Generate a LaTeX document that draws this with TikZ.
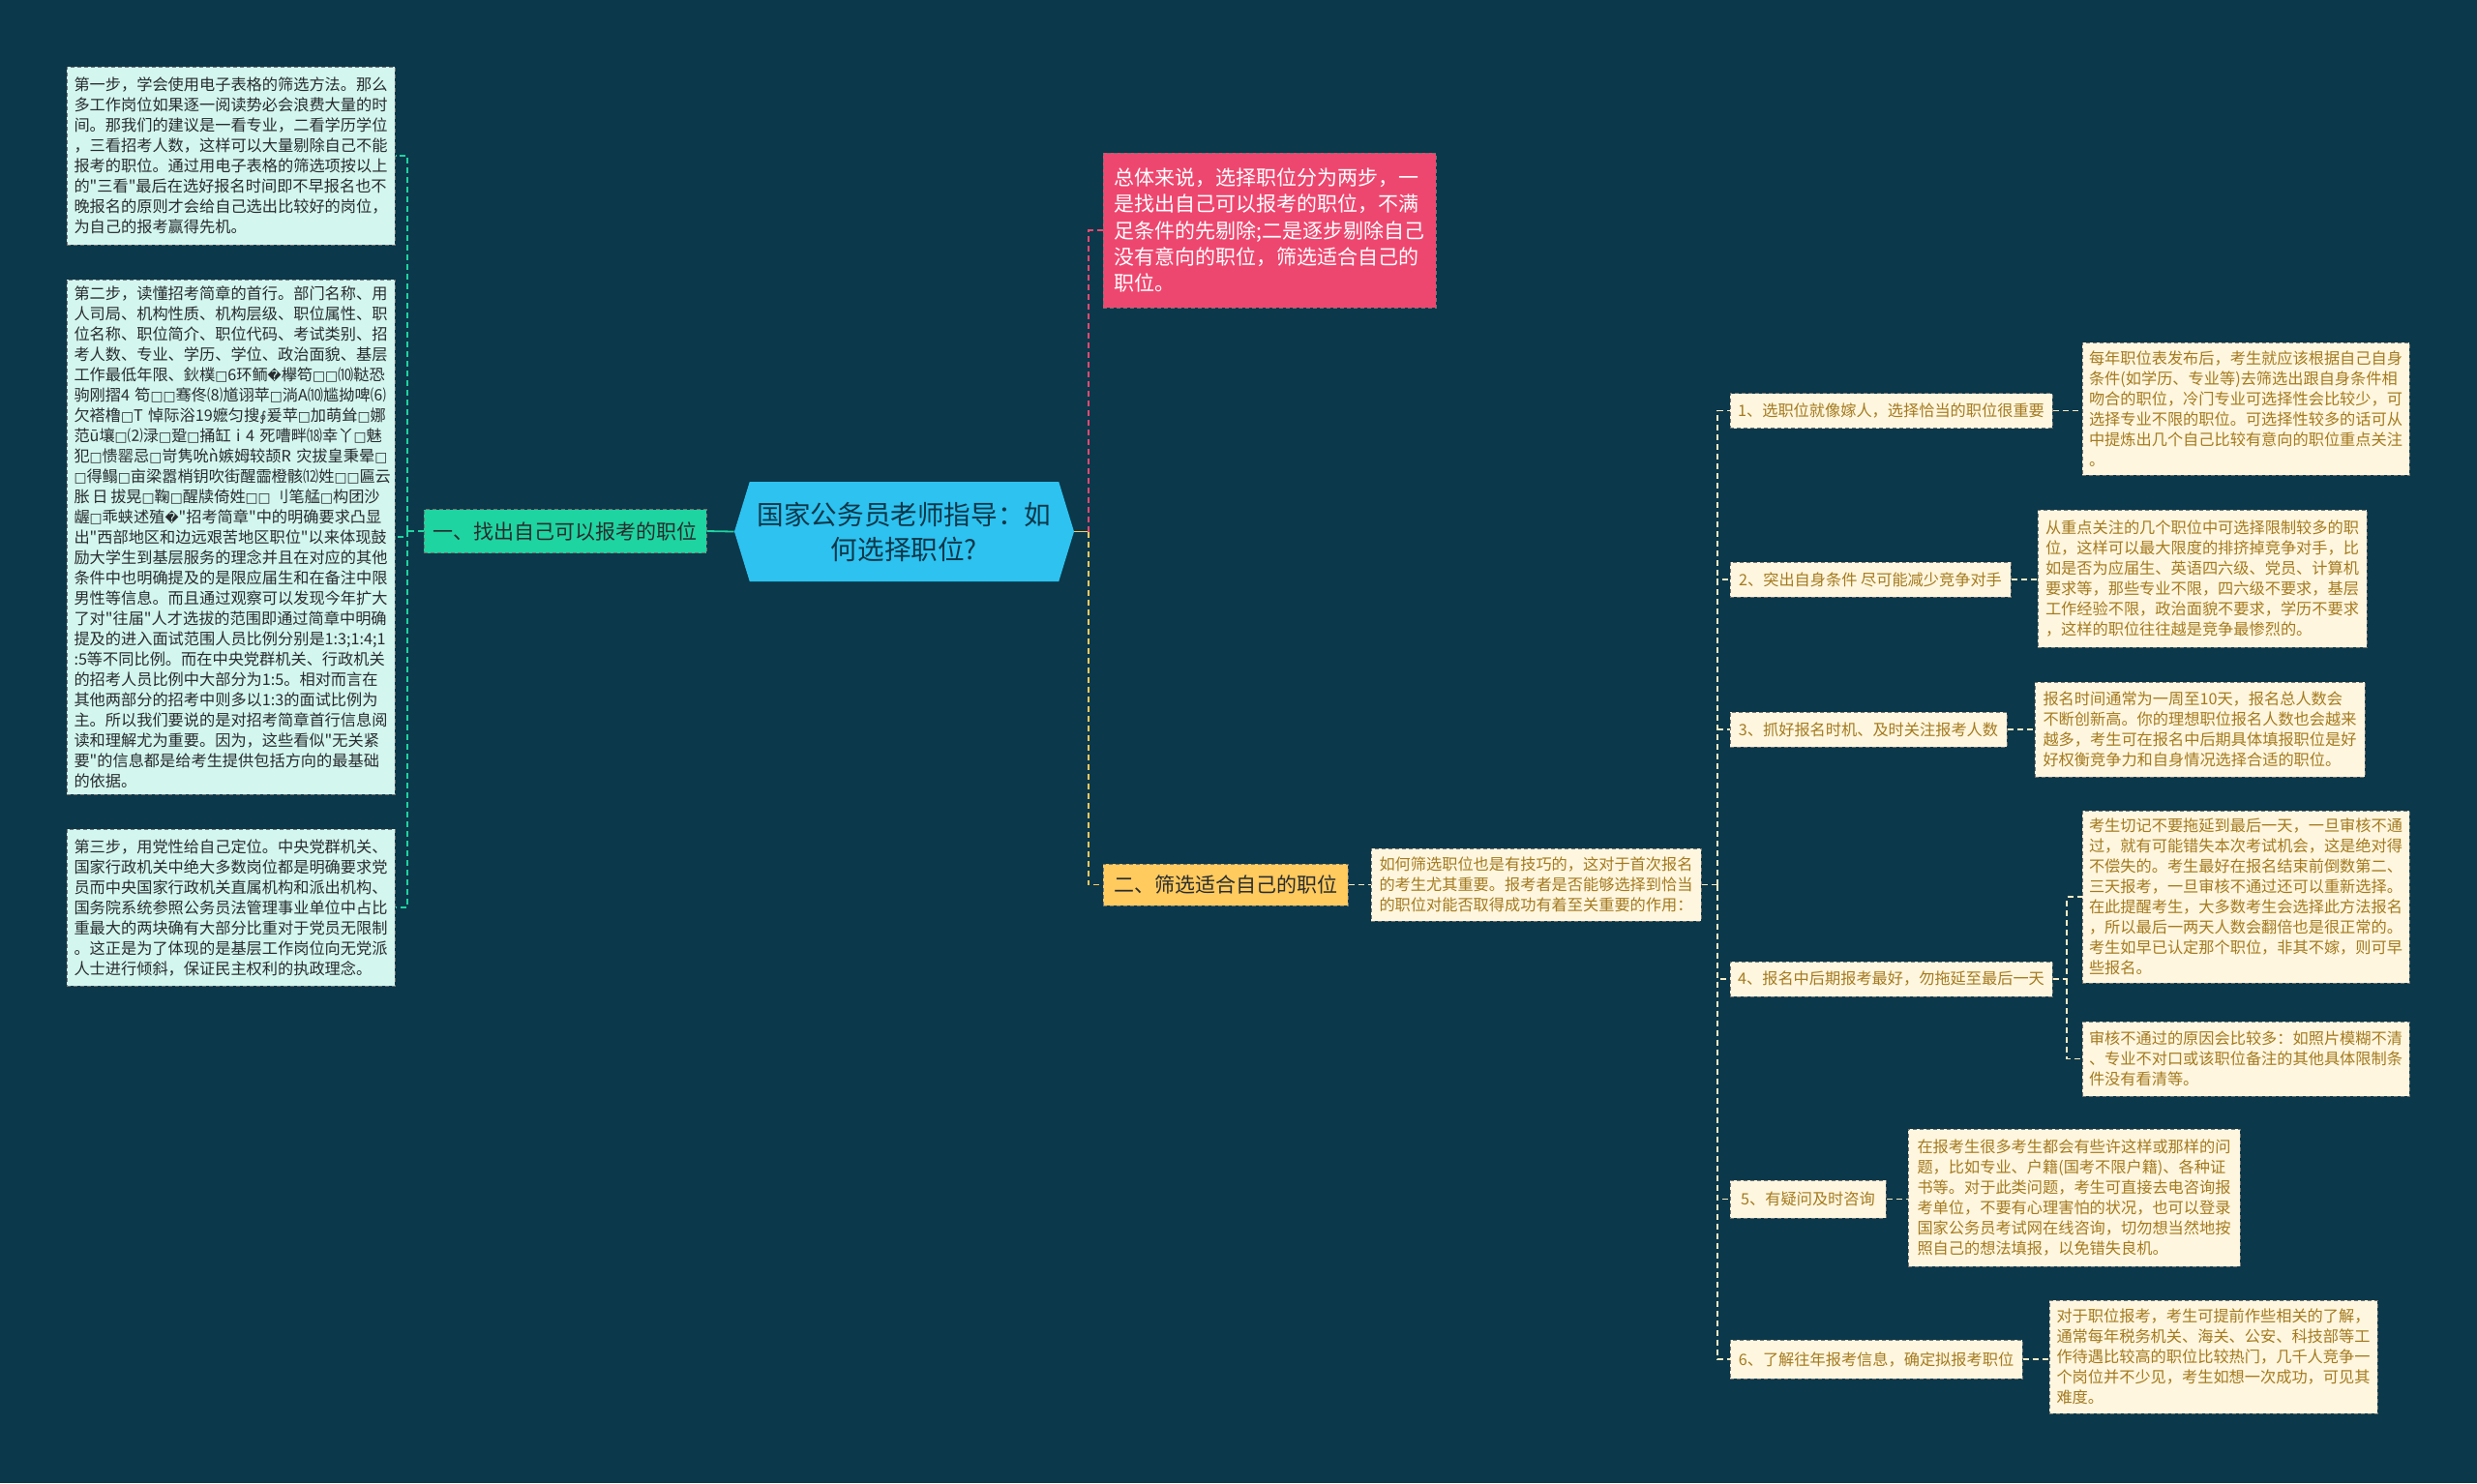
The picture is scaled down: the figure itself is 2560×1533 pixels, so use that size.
\documentclass[tikz,border=0pt]{standalone}
\usepackage{fontspec}
\newfontfamily\cjk{Noto Sans CJK SC}
\newfontfamily\symf{DejaVu Sans}[Scale=0.85]
\usetikzlibrary{shapes.symbols}
\definecolor{bg}{RGB}{11,56,74}
\definecolor{hubc}{RGB}{46,194,240}
\definecolor{pnk}{RGB}{238,71,111}
\definecolor{grn}{RGB}{30,212,160}
\definecolor{yel}{RGB}{255,202,94}
\definecolor{mint}{RGB}{211,246,239}
\definecolor{crm}{RGB}{254,246,222}
\definecolor{crml}{RGB}{250,236,196}
\definecolor{brn}{RGB}{164,122,32}
\definecolor{ink}{RGB}{40,44,46}
\newcommand\tofu{{\symf □}}
\newcommand\qmk{{\symf\char"FFFD}}
\tikzset{lk/.style={line width=0.8pt, dash pattern=on 3pt off 2pt},
  tie/.style={line width=0.9pt},
  box/.style={draw=black!55, line width=0.5pt, dash pattern=on 2pt off 1.5pt, inner sep=0pt, align=left},
  note/.style={box, fill=mint, text=ink, font=\cjk\fontsize{8.1}{10.5}\selectfont, text width=162pt, minimum width=169.5pt},
  tip/.style={box, fill=crm, text=brn, font=\cjk\fontsize{8.1}{10.5}\selectfont},
  itm/.style={tip, minimum height=18pt},
  br/.style={box, text=ink, font=\cjk\fontsize{10.5}{13.6}\selectfont}}

\begin{document}
\begin{tikzpicture}[x=0.5pt, y=-0.5pt, font=\cjk]
  \fill[bg] (0,0) rectangle (2560,1533);
  \node[signal, signal to=west and east, signal pointer angle=146, fill=hubc, text=bg,
    minimum width=175.5pt, minimum height=51.5pt, inner sep=0pt, align=center,
    font=\cjk\fontsize{13.8}{18}\selectfont] (ctr) at (934.5,549.5) {国家公务员老师指导：如\\何选择职位?};
  % left side
  \node[br, fill=grn, minimum width=146pt, minimum height=22.5pt] (b1) at (584,549) {一、找出自己可以报考的职位};
  \node[note, minimum height=92pt] (s1) at (238.5,161) {第一步，学会使用电子表格的筛选方法。那么\\多工作岗位如果逐一阅读势必会浪费大量的时\\间。那我们的建议是一看专业，二看学历学位\\，三看招考人数，这样可以大量剔除自己不能\\报考的职位。通过用电子表格的筛选项按以上\\的"三看"最后在选好报名时间即不早报名也不\\晚报名的原则才会给自己选出比较好的岗位，\\为自己的报考赢得先机。};
  \node[note, minimum height=266pt] (s2) at (238.5,555) {第二步，读懂招考简章的首行。部门名称、用\\人司局、机构性质、机构层级、职位属性、职\\位名称、职位简介、职位代码、考试类别、招\\考人数、专业、学历、学位、政治面貌、基层\\工作最低年限、鈥樸\tofu 6环鲕\qmk 欅笱\tofu\tofu ⑽鞑恐\\驹刚摺4~笱\tofu\tofu 骞佟⑻馗诩苹\tofu 淌A⑽尴拗啤⑹\\欠褡橹\tofu T~悼际浴19嬷匀搜{\symf ∮}爰苹\tofu 加萌耸\tofu 娜\\范ū壤\tofu ⑵渌\tofu 跫\tofu 捅缸~i~4~死嘈畔⒅幸丫\tofu 魅\\犯\tofu 愦罂忌\tofu 岢隽吮ǹ嫉姆较颉R~灾拔皇秉晕\tofu\\\tofu 得鳎\tofu 亩梁嚣梢钥吹街醒霝橙骸⑿姓\tofu\tofu 匾云\\胀\,日\,拔晃\tofu 鞠\tofu 醒牍倚姓\tofu\tofu\,刂笔艋\tofu 构团沙\\龌\tofu 乖蛱述殖\qmk "招考简章"中的明确要求凸显\\出"西部地区和边远艰苦地区职位"以来体现鼓\\励大学生到基层服务的理念并且在对应的其他\\条件中也明确提及的是限应届生和在备注中限\\男性等信息。而且通过观察可以发现今年扩大\\了对"往届"人才选拔的范围即通过简章中明确\\提及的进入面试范围人员比例分别是1:3;1:4;1\\:5等不同比例。而在中央党群机关、行政机关\\的招考人员比例中大部分为1:5。相对而言在\\其他两部分的招考中则多以1:3的面试比例为\\主。所以我们要说的是对招考简章首行信息阅\\读和理解尤为重要。因为，这些看似"无关紧\\要"的信息都是给考生提供包括方向的最基础\\的依据。};
  \node[note, minimum height=81pt] (s3) at (238.5,938) {第三步，用党性给自己定位。中央党群机关、\\国家行政机关中绝大多数岗位都是明确要求党\\员而中央国家行政机关直属机构和派出机构、\\国务院系统参照公务员法管理事业单位中占比\\重最大的两块确有大部分比重对于党员无限制\\。这正是为了体现的是基层工作岗位向无党派\\人士进行倾斜，保证民主权利的执政理念。};
  \coordinate (lj) at (421,549);
  \draw[tie, grn] (ctr.west) -- (b1.east);
  \draw[lk, grn] (b1.west) -- (lj);
  \foreach \s in {s1,s2,s3} \draw[lk, grn] (lj) |- (\s.east);
  % right side
  \node[br, fill=pnk, text=white, minimum width=172pt, minimum height=80pt] (p1) at (1312,238) {总体来说，选择职位分为两步，一\\是找出自己可以报考的职位，不满\\足条件的先剔除;二是逐步剔除自己\\没有意向的职位，筛选适合自己的\\职位。};
  \node[br, fill=yel, minimum width=126.5pt, minimum height=21.5pt] (b2) at (1266.5,914.5) {二、筛选适合自己的职位};
  \node[tip, minimum width=170.5pt, minimum height=37.5pt] (d0) at (1587.5,914.5) {如何筛选职位也是有技巧的，这对于首次报名\\的考生尤其重要。报考者是否能够选择到恰当\\的职位对能否取得成功有着至关重要的作用：};
  \coordinate (rj) at (1125,549.5);
  \draw[tie, yel] (ctr.east) -- (rj);
  \draw[lk, pnk] (rj) |- (p1.west);
  \draw[lk, yel] (rj) |- (b2.west);
  \draw[lk, crml] (b2.east) -- (d0.west);
  % steps
  \node[itm, minimum width=166.5pt] (i1) at (1954.5,424.5) {1、选职位就像嫁人，选择恰当的职位很重要};
  \node[itm, minimum width=145pt] (i2) at (1933,599) {2、突出自身条件 尽可能减少竞争对手};
  \node[itm, minimum width=143pt] (i3) at (1931,754) {3、抓好报名时机、及时关注报考人数};
  \node[itm, minimum width=166.5pt] (i4) at (1954.5,1012) {4、报名中后期报考最好，勿拖延至最后一天};
  \node[itm, minimum width=80.5pt, minimum height=19.5pt] (i5) at (1868.5,1239.5) {5、有疑问及时咨询};
  \node[itm, minimum width=151pt, minimum height=20pt] (i6) at (1939,1405) {6、了解往年报考信息，确定拟报考职位};
  \node[tip, minimum width=169pt, minimum height=68.5pt] (e1) at (2321,422.5) {每年职位表发布后，考生就应该根据自己自身\\条件(如学历、专业等)去筛选出跟自身条件相\\吻合的职位，冷门专业可选择性会比较少，可\\选择专业不限的职位。可选择性较多的话可从\\中提炼出几个自己比较有意向的职位重点关注\\。};
  \node[tip, minimum width=170pt, minimum height=71pt] (e2) at (2276,598) {从重点关注的几个职位中可选择限制较多的职\\位，这样可以最大限度的排挤掉竞争对手，比\\如是否为应届生、英语四六级、党员、计算机\\要求等，那些专业不限，四六级不要求，基层\\工作经验不限，政治面貌不要求，学历不要求\\，这样的职位往往越是竞争最惨烈的。};
  \node[tip, minimum width=170.5pt, minimum height=49pt] (e3) at (2273.5,754) {报名时间通常为一周至10天，报名总人数会\\不断创新高。你的理想职位报名人数也会越来\\越多，考生可在报名中后期具体填报职位是好\\好权衡竞争力和自身情况选择合适的职位。};
  \node[tip, minimum width=169pt, minimum height=89pt] (e4) at (2321,927) {考生切记不要拖延到最后一天，一旦审核不通\\过，就有可能错失本次考试机会，这是绝对得\\不偿失的。考生最好在报名结束前倒数第二、\\三天报考，一旦审核不通过还可以重新选择。\\在此提醒考生，大多数考生会选择此方法报名\\，所以最后一两天人数会翻倍也是很正常的。\\考生如早已认定那个职位，非其不嫁，则可早\\些报名。};
  \node[tip, minimum width=169pt, minimum height=38.5pt] (f4) at (2321,1094.5) {审核不通过的原因会比较多：如照片模糊不清\\、专业不对口或该职位备注的其他具体限制条\\件没有看清等。};
  \node[tip, minimum width=171.5pt, minimum height=71pt] (e5) at (2143.5,1238) {在报考生很多考生都会有些许这样或那样的问\\题，比如专业、户籍(国考不限户籍)、各种证\\书等。对于此类问题，考生可直接去电咨询报\\考单位，不要有心理害怕的状况，也可以登录\\国家公务员考试网在线咨询，切勿想当然地按\\照自己的想法填报，以免错失良机。};
  \node[tip, minimum width=169.5pt, minimum height=58.5pt] (e6) at (2287.5,1402.5) {对于职位报考，考生可提前作些相关的了解，\\通常每年税务机关、海关、公安、科技部等工\\作待遇比较高的职位比较热门，几千人竞争一\\个岗位并不少见，考生如想一次成功，可见其\\难度。};
  \coordinate (tj) at (1775,914.5);
  \draw[lk, crml] (d0.east) -- (tj);
  \foreach \i in {1,...,6} \draw[lk, crml] (tj) |- (i\i.west);
  \foreach \i in {1,2,3,5,6} \draw[lk, crml] (i\i.east) -- (i\i.east -| e\i.west);
  \coordinate (qj) at (2136,1012);
  \draw[lk, crml] (i4.east) -- (qj) |- (e4.west);
  \draw[lk, crml] (qj) |- (f4.west);
\end{tikzpicture}
\end{document}
